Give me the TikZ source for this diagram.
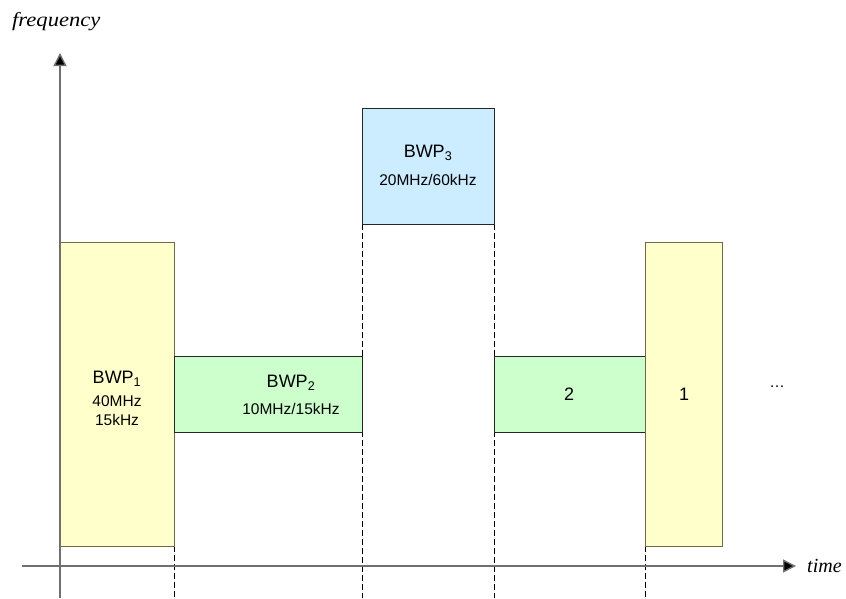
\documentclass[tikz,border=0pt]{standalone}
\usepackage{fontspec}
\setmainfont{Liberation Sans}
\newfontfamily\timesfont{Liberation Serif}
\usetikzlibrary{arrows.meta,backgrounds}
\definecolor{ylw}{HTML}{FFFFCC}
\definecolor{grn}{HTML}{CCFFCC}
\definecolor{blu}{HTML}{CCECFF}
\definecolor{ylwline}{HTML}{6B6B4A}
\definecolor{axisgray}{HTML}{707070}
\begin{document}
\begin{tikzpicture}[x=1pt,y=-1pt,
  bwpbox/.style={draw=black!85, line width=0.8pt, inner sep=0pt, outer sep=0pt},
  ybox/.style={bwpbox, draw=ylwline, fill=ylw, minimum width=114pt, minimum height=304pt},
  gbox/.style={bwpbox, fill=grn, minimum height=76pt},
  bbox/.style={bwpbox, fill=blu, minimum width=132pt, minimum height=116pt},
  big/.style={font=\fontsize{18}{20}\selectfont, inner sep=0pt},
  small/.style={font=\fontsize{15.5}{17}\selectfont, inner sep=0pt},
  axislbl/.style={font=\timesfont\itshape\fontsize{20}{22}\selectfont, inner sep=0pt},
  axisline/.style={draw=axisgray, line width=1.4pt, -{Triangle[length=13pt,width=13pt,fill=black]}},
  guide/.style={draw=black, line width=0.6pt, dash pattern=on 6pt off 3pt}
]
\useasboundingbox (0,0) rectangle (846,598);

% boxes
\node[ybox] (b1) at (117,394) {};
\node[gbox, minimum width=188pt] (b2) at (268,394) {};
\node[bbox] (b3) at (428,166) {};
\node[gbox, minimum width=151pt] (b4) at (569.5,394) {};
\node[ybox, minimum width=77pt] (b5) at (683.5,394) {};

% texts
\node[big] (t1) at (117,379) {BWP\textsubscript{1}};
\node[small] (t1a) at (117,401) {40MHz};
\node[small] (t1b) at (117,420) {15kHz};
\node[big] (t2) at (291,383) {BWP\textsubscript{2}};
\node[small] (t2a) at (291,409) {10MHz/15kHz};
\node[big] (t3) at (428,153) {BWP\textsubscript{3}};
\node[small] (t3a) at (428,180) {20MHz/60kHz};
\node[big] (t4) at (569,394) {2};
\node[big] (t5) at (684,394) {1};
\node[small] (dots) at (777,387) {\ldots};

% axes
\coordinate (yb) at (60,598);
\coordinate (yt) at (60,53);
\coordinate (xl) at (22,566);
\coordinate (xr) at (796,566);
\draw[axisline] (yb) -- (yt);
\draw[axisline] (xl) -- (xr);
\node[axislbl, anchor=base west] (tl) at (807,572) {time};
\node[axislbl, anchor=base west] (fl) at (12,26) {\scalebox{1.13}[1]{frequency}};

% guide lines
\coordinate (g1) at (174,598);
\coordinate (g2) at (362,598);
\coordinate (g3) at (494,598);
\coordinate (g4) at (645,598);
\begin{scope}[on background layer]
\draw[guide] (b1.south east) -- (g1);
\draw[guide] (b3.south west) -- (g2);
\draw[guide] (b3.south east) -- (g3);
\draw[guide] (b5.south west) -- (g4);
\end{scope}
\end{tikzpicture}
\end{document}
